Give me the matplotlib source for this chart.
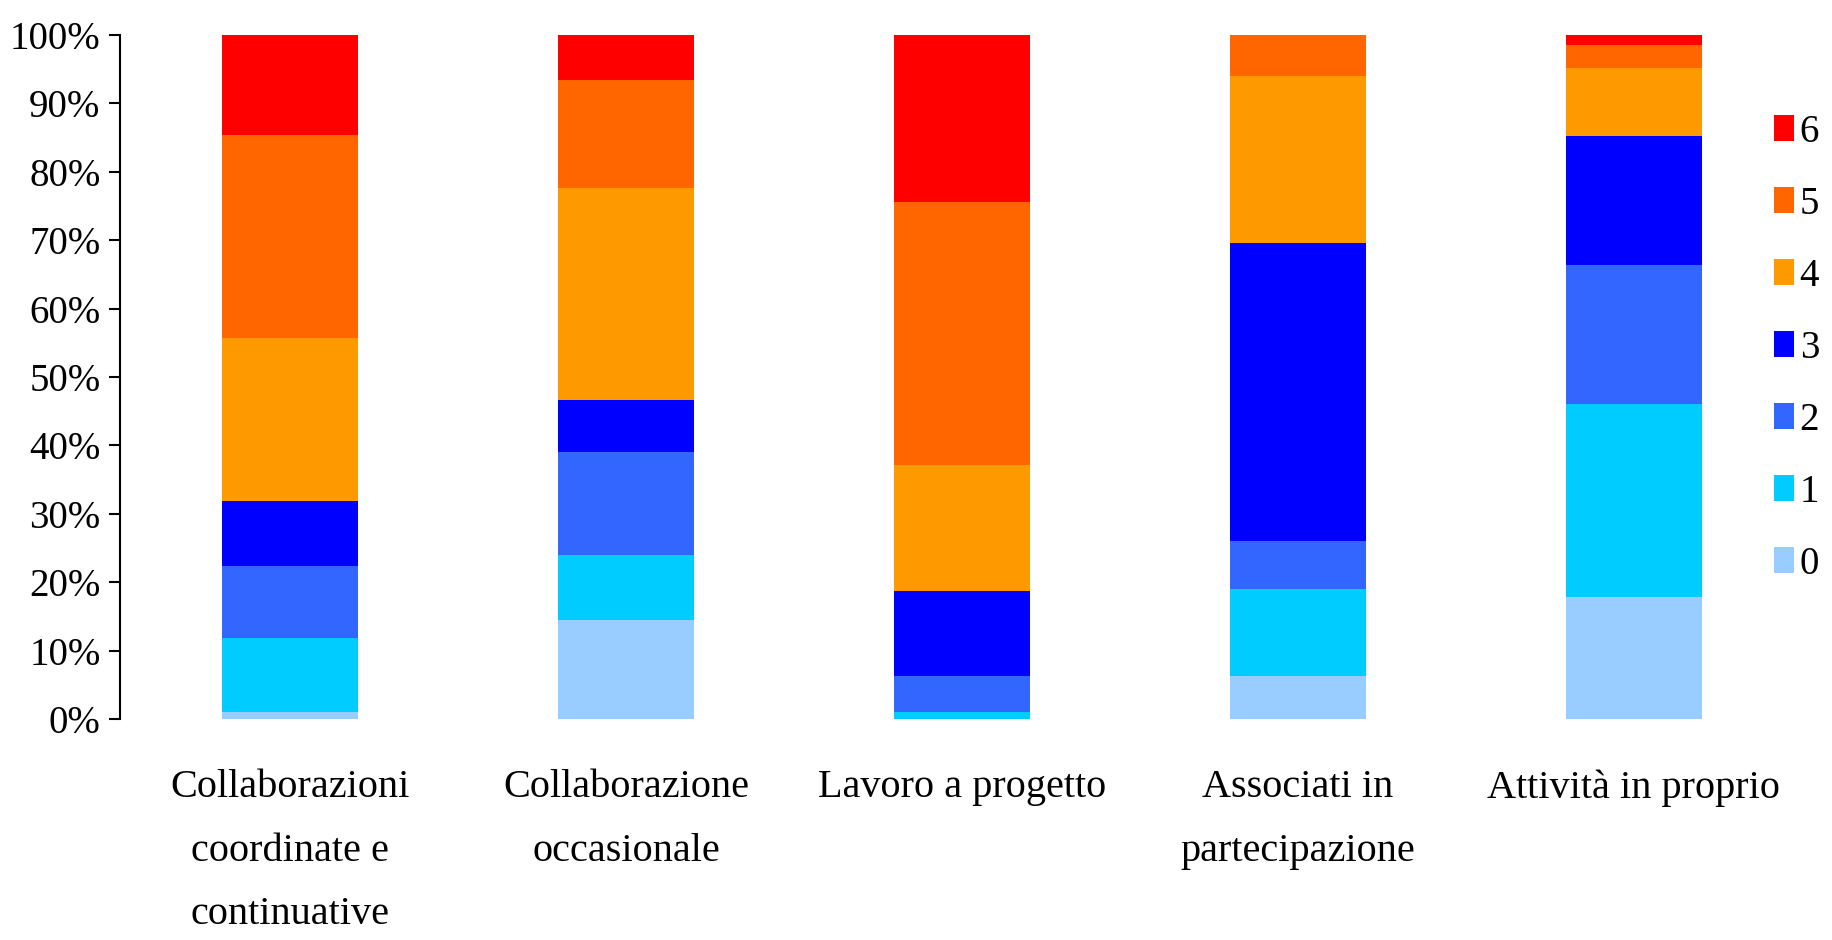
import matplotlib
matplotlib.use("Agg")
import matplotlib.pyplot as plt
import numpy as np

# categories on the x axis
categories = [
    "Collaborazioni\ncoordinate e\ncontinuative",
    "Collaborazione\noccasionale",
    "Lavoro a progetto",
    "Associati in\npartecipazione",
    "Attività in proprio",
]

# share (%) of each class 0..6 in every category
class_0 = [1.0, 14.5, 0.0, 6.3, 17.9]
class_1 = [10.9, 9.5, 1.0, 12.7, 28.1]
class_2 = [10.4, 15.0, 5.3, 7.0, 20.4]
class_3 = [9.6, 7.7, 12.4, 43.6, 18.8]
class_4 = [23.8, 30.9, 18.4, 24.4, 10.0]
class_5 = [29.6, 15.8, 38.4, 6.0, 3.3]
class_6 = [14.7, 6.6, 24.5, 0.0, 1.5]

series_labels = ["0", "1", "2", "3", "4", "5", "6"]
series = [class_0, class_1, class_2, class_3, class_4, class_5, class_6]
colors = ["#99CCFF", "#00CCFF", "#3366FF", "#0000FF", "#FF9900", "#FF6600", "#FF0000"]

plt.rcParams['font.family'] = ['Liberation Serif', 'DejaVu Serif']

fig = plt.figure(figsize=(18.33, 9.4), dpi=100)
ax = fig.add_axes([0.0655, 0.235, 0.9175, 0.728])

x = np.arange(len(categories))
bottom = np.zeros(len(categories))
bars = []
for vals, lab, col in zip(series, series_labels, colors):
    b = ax.bar(x, vals, width=0.405, bottom=bottom, color=col, label=lab, linewidth=0)
    bars.append(b)
    bottom += np.array(vals)

ax.set_xlim(-0.506, 4.5)
ax.set_ylim(0, 100)
ax.set_yticks(np.arange(0, 101, 10))
ax.set_yticklabels([f"{v}%" for v in range(0, 101, 10)], fontsize=28)
ax.set_xticks(x)
ax.set_xticklabels(categories, fontsize=29, linespacing=1.95, va='top')

for side in ['top', 'right', 'bottom']:
    ax.spines[side].set_visible(False)
ax.spines['left'].set_linewidth(1.5)
ax.tick_params(axis='y', direction='out', length=8, width=1.5, pad=6)
ax.tick_params(axis='x', length=0, pad=36)

# legend: 6 at top, 0 at bottom
handles = bars[::-1]
labels = series_labels[::-1]
fig.legend(handles, labels, loc='upper left', bbox_to_anchor=(0.968, 0.879),
           frameon=False, fontsize=28, handlelength=0.5, handleheight=0.62,
           handletextpad=0.15, labelspacing=0.9, borderaxespad=0, borderpad=0)

fig.savefig("out.png", dpi=100)
